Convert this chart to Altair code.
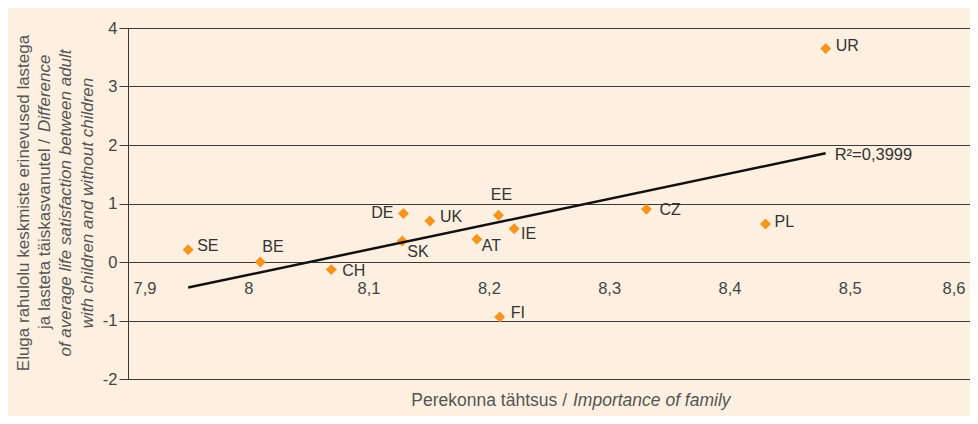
import altair as alt
import pandas as pd

countries = ["SE", "BE", "CH", "DE", "UK", "SK", "EE", "AT", "IE", "FI", "UR", "CZ", "PL"]
family_importance = [7.950, 8.010, 8.069, 8.129, 8.151, 8.128, 8.208, 8.190, 8.221, 8.209, 8.480, 8.331, 8.430]
satisfaction_diff = [0.21, 0.00, -0.13, 0.83, 0.70, 0.36, 0.80, 0.39, 0.57, -0.94, 3.65, 0.90, 0.65]

x_ticks = [7.9, 8.0, 8.1, 8.2, 8.3, 8.4, 8.5, 8.6]
y_ticks = [-2, -1, 0, 1, 2, 3, 4]
r2_text = "R\u00b2=0,3999"

# label placement (align, dx, dy) per country
label_style = {
    "SE": ("left", 9, -4), "BE": ("left", 2, -15), "CH": ("left", 11, 1),
    "DE": ("right", -10, 0), "UK": ("left", 10, -4), "SK": ("left", 5, 11),
    "EE": ("center", 3, -20), "AT": ("left", 5, 7), "IE": ("left", 7, 5),
    "FI": ("left", 11, -4), "UR": ("left", 10, -2), "CZ": ("left", 13, 1),
    "PL": ("left", 9, -2),
}

BG = "#FDF0E1"
ORANGE = "#F7941D"
FONT = "Liberation Sans"
W, H = 842, 351

df = pd.DataFrame({"country": countries, "x": family_importance, "y": satisfaction_diff})

xs = alt.Scale(domain=[7.9, 8.6], nice=False, zero=False)
ys = alt.Scale(domain=[-2, 4], nice=False)

base = alt.Chart(df)

points = base.mark_point(shape="diamond", filled=True, size=120, color=ORANGE, opacity=1).encode(
    x=alt.X("x:Q", scale=xs, axis=alt.Axis(
        values=x_ticks, grid=False, domain=False, ticks=False, title=None,
        offset=-(H * 2 / 6), labelPadding=18, labelFontSize=16.5, labelColor="#444",
        labelFont=FONT, labelFlush=True, labelFlushOffset=-5,
        labelExpr="replace(format(datum.value, '.2~g'), '.', ',')")),
    y=alt.Y("y:Q", scale=ys, axis=alt.Axis(
        values=y_ticks, grid=True, gridColor="#3a3a3a", gridWidth=1,
        domainColor="#3a3a3a", tickColor="#3a3a3a", tickSize=9, title=None,
        labelFontSize=16.5, labelColor="#444", labelFont=FONT, labelPadding=2,
        labelExpr="'' + datum.value")),
)

trend = base.transform_regression("x", "y").mark_line(color="#111", strokeWidth=2.5).encode(
    x=alt.X("x:Q", scale=xs), y=alt.Y("y:Q", scale=ys))

r2 = base.transform_regression("x", "y").transform_joinaggregate(
    mx="max(x)").transform_filter("datum.x == datum.mx").mark_text(
    align="left", baseline="middle", dx=9, dy=2, fontSize=16.5, font=FONT, color="#333"
).encode(x=alt.X("x:Q", scale=xs), y=alt.Y("y:Q", scale=ys), text=alt.value(r2_text))

labels = []
for c in countries:
    a, dx, dy = label_style[c]
    labels.append(base.transform_filter(alt.datum.country == c).mark_text(
        align=a, baseline="middle", dx=dx, dy=dy, fontSize=16, font=FONT, color="#333"
    ).encode(x=alt.X("x:Q", scale=xs), y=alt.Y("y:Q", scale=ys), text="country:N"))

tcol = "#555"
def txt(s, x, y, align="center", italic=False, angle=0, size=17):
    return alt.Chart(pd.DataFrame({"t": [s]})).mark_text(
        align=align, baseline="middle", angle=angle, fontSize=size, font=FONT,
        fontStyle="italic" if italic else "normal", color=tcol
    ).encode(x=alt.value(x), y=alt.value(y), text="t:N")

titles = [
    txt("Perekonna tähtsus /", 439, 373, align="right", size=17.5),
    txt("Importance of family", 445, 373, align="left", italic=True, size=17.5),
    txt("Eluga rahulolu keskmiste erinevused lastega", -104, 175, angle=270),
    txt("ja lasteta täiskasvanutel  /", -83, 111, align="right", angle=270),
    txt("Difference", -83, 104, align="left", italic=True, angle=270),
    txt("of average life satisfaction between adult", -62, 175, italic=True, angle=270),
    txt("with children and without children", -40, 175, italic=True, angle=270),
]

chart = alt.layer(points, trend, r2, *labels, *titles).properties(
    width=W, height=H, background=BG,
    autosize=alt.AutoSizeParams(type="none"),
    padding={"left": 120, "top": 20, "right": 0, "bottom": 37},
).configure_view(stroke="#3a3a3a", strokeWidth=1, fill=BG)

chart.save("out.html", embed_options={"renderer": "svg", "actions": False})
